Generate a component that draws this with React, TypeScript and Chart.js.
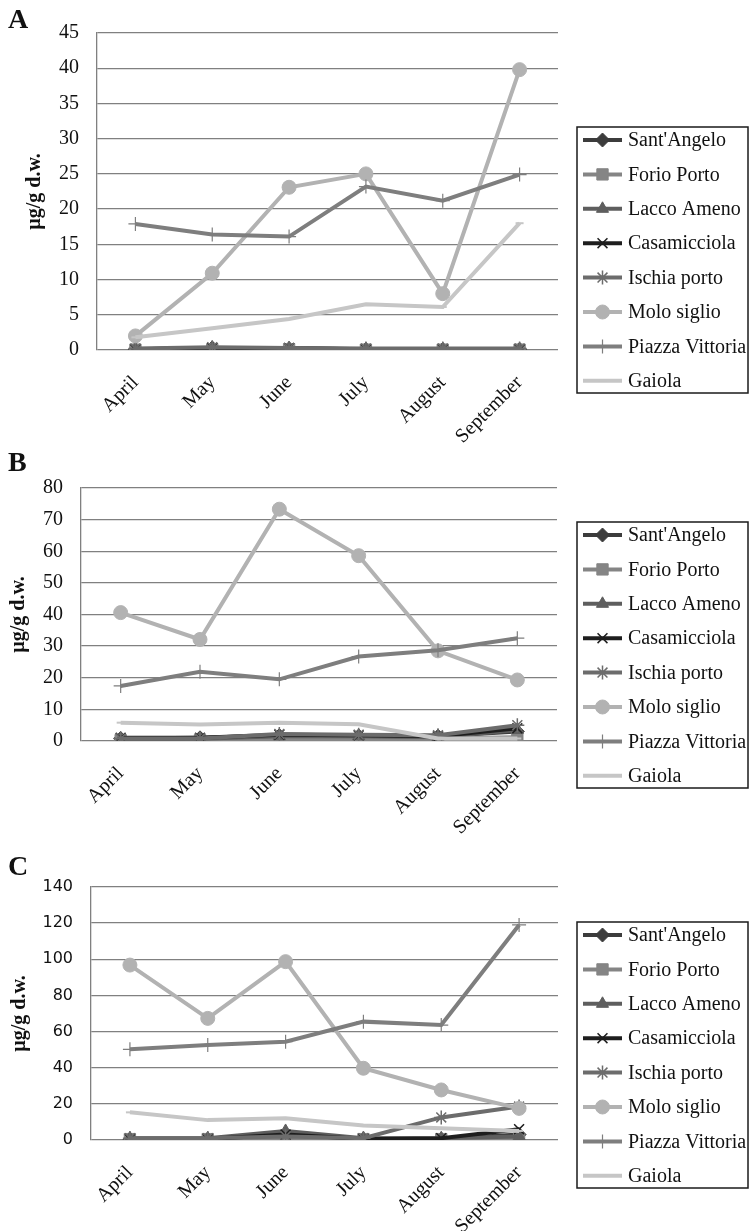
import React, { useEffect, useRef } from 'react';
import { Chart, registerables } from 'chart.js';
import { drawPoint } from 'chart.js/helpers';

Chart.register(...registerables);

// ---------- categories & labels ----------
const months = ['April', 'May', 'June', 'July', 'August', 'September'];
const siteNames = ["Sant'Angelo", 'Forio Porto', 'Lacco Ameno', 'Casamicciola', 'Ischia porto', 'Molo siglio', 'Piazza Vittoria', 'Gaiola'];
const yTitle = 'µg/g d.w.';

// ---------- panel A values (µg/g d.w.) ----------
const santAngeloA = [0.1, 0.3, 0.2, 0.1, 0.1, 0.1];
const forioPortoA = [0.05, 0.1, 0.1, 0.05, 0.05, 0.05];
const laccoAmenoA = [0.1, 0.2, 0.2, 0.1, 0.1, 0.1];
const casamicciolaA = [0.1, 0.3, 0.3, 0.1, 0.1, 0.1];
const ischiaPortoA = [0.2, 0.4, 0.3, 0.2, 0.2, 0.2];
const moloSiglioA = [2.0, 10.9, 23.1, 25.0, 8.0, 39.8];
const piazzaVittoriaA = [17.9, 16.4, 16.1, 23.2, 21.2, 24.9];
const gaiolaA = [1.8, 3.1, 4.4, 6.5, 6.1, 18.0];

// ---------- panel B values ----------
const santAngeloB = [0.8, 1.0, 1.7, 1.6, 1.5, 3.0];
const forioPortoB = [0.3, 0.3, 0.5, 0.5, 0.8, 1.2];
const laccoAmenoB = [0.5, 0.7, 1.5, 1.5, 1.2, 3.5];
const casamicciolaB = [1.0, 1.0, 2.0, 1.8, 1.5, 4.0];
const ischiaPortoB = [0.8, 0.8, 2.2, 2.0, 1.8, 5.0];
const moloSiglioB = [40.6, 32.1, 73.3, 58.6, 28.5, 19.3];
const piazzaVittoriaB = [17.4, 21.9, 19.5, 26.7, 28.7, 32.5];
const gaiolaB = [5.8, 5.2, 5.8, 5.3, 0.8, 0.8];

// ---------- panel C values ----------
const santAngeloC = [0.5, 0.5, 2.0, 0.5, 0.5, 3.0];
const forioPortoC = [0.5, 0.5, 1.0, 0.5, 0.5, 0.8];
const laccoAmenoC = [1.0, 1.0, 5.0, 1.0, 1.0, 2.0];
const casamicciolaC = [0.5, 0.5, 3.0, 0.5, 1.0, 6.0];
const ischiaPortoC = [1.0, 1.0, 2.0, 1.0, 12.5, 18.5];
const moloSiglioC = [96.8, 67.3, 98.7, 39.7, 27.7, 17.5];
const piazzaVittoriaC = [50.2, 52.6, 54.4, 65.5, 63.6, 119.0];
const gaiolaC = [15.3, 11.0, 12.0, 8.0, 6.5, 5.0];

// ---------- axis ranges ----------
const yMaxA = 45, yStepA = 5;
const yMaxB = 80, yStepB = 10;
const yMaxC = 140, yStepC = 20;

// ---------- series styles ----------
const seriesStyles = [
  { color: '#3c3c3c', point: 'rectRot', radius: 7, pbw: 1 },
  { color: '#858585', point: 'rect', radius: 8, pbw: 1 },
  { color: '#5e5e5e', point: 'triangle', radius: 7, pbw: 1 },
  { color: '#1e1e1e', point: 'crossRot', radius: 7, pbw: 1.5 },
  { color: '#6c6c6c', point: 'star', radius: 7, pbw: 1.5 },
  { color: '#b2b2b2', point: 'circle', radius: 7, pbw: 1 },
  { color: '#7e7e7e', point: 'cross', radius: 7, pbw: 1.2 },
  { color: '#c6c6c6', point: 'line', radius: 4, pbw: 2 },
];

const SERIF = '"Liberation Serif", "Times New Roman", serif';
const SANS = '"DejaVu Sans", Verdana, sans-serif';
const W = 749;

const panels = [
  {
    letter: 'A', top: 0, height: 460,
    series: [santAngeloA, forioPortoA, laccoAmenoA, casamicciolaA, ischiaPortoA, moloSiglioA, piazzaVittoriaA, gaiolaA],
    max: yMaxA, step: yStepA,
    area: { left: 97, right: 558, top: 33, bottom: 350 },
    yFont: { family: SERIF, size: 20 }, titlePad: 23, legendTop: 127, letterTop: 5,
  },
  {
    letter: 'B', top: 420, height: 420,
    series: [santAngeloB, forioPortoB, laccoAmenoB, casamicciolaB, ischiaPortoB, moloSiglioB, piazzaVittoriaB, gaiolaB],
    max: yMaxB, step: yStepB,
    area: { left: 81, right: 557, top: 68, bottom: 321 },
    yFont: { family: SERIF, size: 20 }, titlePad: 7, legendTop: 102, letterTop: 448,
  },
  {
    letter: 'C', top: 820, height: 411,
    series: [santAngeloC, forioPortoC, laccoAmenoC, casamicciolaC, ischiaPortoC, moloSiglioC, piazzaVittoriaC, gaiolaC],
    max: yMaxC, step: yStepC,
    area: { left: 91, right: 558, top: 67, bottom: 320 },
    yFont: { family: SANS, size: 16 }, titlePad: 8, legendTop: 102, letterTop: 852,
  },
];

const legendBoxPlugin = {
  id: 'legendBox',
  afterDraw(chart: any) {
    const opts = chart.options.plugins.legendBox;
    if (!opts) return;
    const ctx = chart.ctx;
    const top = opts.top;
    ctx.save();
    ctx.strokeStyle = '#1a1a1a';
    ctx.lineWidth = 1.5;
    ctx.strokeRect(577, top, 171, 266);
    chart.data.datasets.forEach((ds: any, i: number) => {
      const y = top + 13 + i * 34.4;
      ctx.strokeStyle = ds.borderColor;
      ctx.lineWidth = 4;
      ctx.beginPath();
      ctx.moveTo(583, y);
      ctx.lineTo(622, y);
      ctx.stroke();
      ctx.fillStyle = ds.pointBackgroundColor;
      ctx.strokeStyle = ds.pointBorderColor;
      ctx.lineWidth = ds.pointBorderWidth;
      drawPoint(ctx, { pointStyle: ds.pointStyle, radius: ds.pointRadius, rotation: 0, borderWidth: ds.pointBorderWidth }, 602.5, y);
      ctx.fillStyle = '#111';
      ctx.font = `20px ${SERIF}`;
      ctx.textBaseline = 'middle';
      ctx.textAlign = 'left';
      ctx.fillText(ds.label, 628, y + 1);
    });
    ctx.restore();
  },
};

function Panel({ p }: { p: any }) {
  const ref = useRef<HTMLCanvasElement | null>(null);
  useEffect(() => {
    if (!ref.current) return;
    const n = siteNames.length;
    const datasets = siteNames.map((name, i) => {
      const s = seriesStyles[i];
      return {
        label: name,
        data: p.series[i],
        borderColor: s.color,
        backgroundColor: s.color,
        borderWidth: 4,
        pointStyle: s.point,
        pointRadius: s.radius,
        pointBackgroundColor: s.color,
        pointBorderColor: s.color,
        pointBorderWidth: s.pbw,
        tension: 0,
        order: n - i,
      };
    });
    const chart = new Chart(ref.current, {
      type: 'line',
      data: { labels: months, datasets },
      plugins: [legendBoxPlugin],
      options: {
        responsive: false,
        animation: false,
        layout: { padding: { top: p.area.top, right: W - p.area.right, left: 0, bottom: 0 } },
        plugins: {
          legend: { display: false },
          tooltip: { enabled: false },
          legendBox: { top: p.legendTop },
        } as any,
        scales: {
          x: {
            offset: true,
            grid: { display: false, drawTicks: false },
            border: { display: false },
            ticks: {
              autoSkip: false, minRotation: 45, maxRotation: 45, padding: 21,
              font: { family: SERIF, size: 20 }, color: '#111',
            },
            afterFit: (s: any) => { s.height = p.height - p.area.bottom; },
          },
          y: {
            min: 0, max: p.max,
            ticks: { stepSize: p.step, padding: 18, font: p.yFont, color: '#111' },
            grid: { color: '#808080', lineWidth: 1.3, drawTicks: false },
            border: { display: true, color: '#808080', width: 1.3 },
            title: {
              display: true, text: yTitle, color: '#111',
              font: { family: SERIF, size: 20, weight: 'bold' },
              padding: { top: p.titlePad, bottom: 0 },
            },
            afterFit: (s: any) => { s.width = p.area.left; },
          },
        },
      } as any,
    });
    return () => chart.destroy();
  }, [p]);
  return (
    <canvas
      ref={ref}
      width={W}
      height={p.height}
      style={{ position: 'absolute', left: 0, top: p.top, width: W, height: p.height }}
    />
  );
}

export default function App() {
  return (
    <div style={{ position: 'absolute', left: 0, top: 0, width: W, height: 1231, background: '#fff', overflow: 'hidden' }}>
      {panels.map((p) => (
        <React.Fragment key={p.letter}>
          <Panel p={p} />
          <div
            style={{
              position: 'absolute', left: 8, top: p.letterTop, fontFamily: SERIF,
              fontWeight: 'bold', fontSize: 28, lineHeight: 1, color: '#111',
            }}
          >
            {p.letter}
          </div>
        </React.Fragment>
      ))}
    </div>
  );
}
